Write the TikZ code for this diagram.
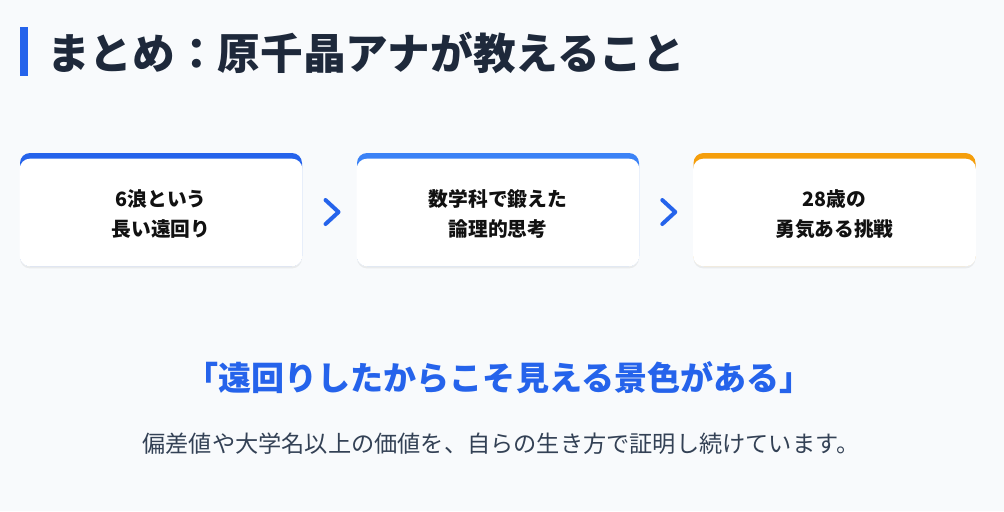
\documentclass[tikz,border=0pt]{standalone}
\usepackage{fontspec}
\setmainfont{Noto Sans CJK JP}
\usepackage{xcolor}
\usetikzlibrary{positioning,calc,shadows}

\definecolor{bgcol}{HTML}{F8FAFC}
\definecolor{inkcol}{HTML}{1E293B}
\definecolor{cardink}{HTML}{111111}
\definecolor{subink}{HTML}{334155}
\definecolor{accentA}{HTML}{2563EB}
\definecolor{accentB}{HTML}{3B82F6}
\definecolor{accentC}{HTML}{F59E0B}

\tikzset{
  card/.style={rounded corners=7.5pt, minimum width=211.5pt, minimum height=84.75pt,
    inner sep=0pt, drop shadow={shadow xshift=0pt, shadow yshift=-1.8pt, opacity=0.12}},
  cardtext/.style={align=center, text=cardink, font=\fontsize{14.8}{22.5}\selectfont\bfseries},
  chevron/.style={draw=accentA, line width=3pt, line cap=round, line join=round},
}

\begin{document}
\begin{tikzpicture}[x=0.75pt,y=-0.75pt]
                % Fond
                \fill[bgcol] (0,0) rectangle (1004,511);
                \useasboundingbox (0,0) rectangle (1004,511);

                % Titre
                \fill[accentA] (20,27) rectangle (28,76);
                \node[anchor=west, inner sep=0pt, text=inkcol, font=\fontsize{32}{36}\selectfont\bfseries]
                    (title) at (47,53) {まとめ：原千晶アナが教えること};

                % Les cartes
                \foreach \i/\cx/\col/\txt in {1/161/accentA/{6浪という\\長い遠回り},
                                              2/498/accentB/{数学科で鍛えた\\論理的思考},
                                              3/834.5/accentC/{28歳の\\勇気ある挑戦}} {
                    \node[card, fill=\col] (card\i) at (\cx,209.5) {};
                    \fill[white, rounded corners=7.5pt] ([yshift=-4.5pt]card\i.north west) rectangle (card\i.south east);
                    \node[cardtext] (text\i) at ([yshift=-3.4pt]card\i.center) {\txt};
                }

                % Les chevrons
                \foreach \a/\b in {1/2,2/3} {
                    \coordinate (arr\a) at ([xshift=1.9pt,yshift=-1.9pt]$(card\a.east)!0.5!(card\b.west)$);
                    \draw[chevron] (arr\a) ++(-6.5,-12) -- ++(13,12) -- ++(-13,12);
                }

                % Citation
                \node[text=accentA, font=\fontsize{24.8}{28}\selectfont\bfseries] (quote) at (499,378)
                    {「遠回りしたからこそ見える景色がある」};
                \node[text=subink, font=\fontsize{17.4}{20}\selectfont] (sub) at (501,444)
                    {偏差値や大学名以上の価値を、自らの生き方で証明し続けています。};
            \end{tikzpicture}
\end{document}
